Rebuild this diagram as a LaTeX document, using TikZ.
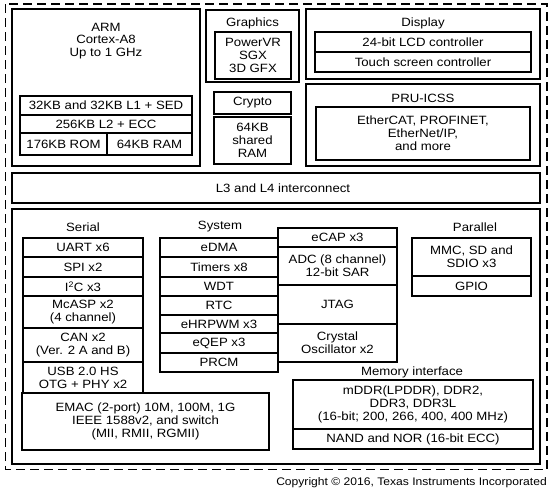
\documentclass[tikz,border=0pt]{standalone}
\usepackage{fontspec}
\setmainfont{Liberation Sans}[FakeStretch=1.1]
\usetikzlibrary{calc}
\tikzset{
  thickbox/.style={draw, line width=2.4pt},
  thinbox/.style={draw, line width=1.1pt},
  outerdash/.style={draw, line width=1.3pt, dash pattern=on 9pt off 5pt},
  lbl/.style={inner sep=0pt, align=center, font=\fontsize{12}{12.8}\selectfont},
  smalltxt/.style={inner sep=0pt, font=\fontsize{11}{12}\selectfont},
}
\newcommand\tbox[6]{%
  \draw[thinbox] (#1,#2) rectangle (#3,#4);
  \node[lbl] (#5) at ($(#1,#2)!0.5!(#3,#4)$) {#6};}
\begin{document}
\begin{tikzpicture}[x=1pt,y=-1pt]
\useasboundingbox (0,0) rectangle (557,491);
% outer dashed frame
\draw[outerdash] (5.5,4) rectangle (547,469.5);
% ARM
\draw[thickbox] (12,9) rectangle (200,166);
\node[lbl] (arm) at (106,41) {ARM\\Cortex-A8\\Up to 1 GHz};
\tbox{20}{96}{192}{115}{l1}{32KB and 32KB L1 + SED}
\tbox{20}{115}{192}{133}{l2}{256KB L2 + ECC}
\tbox{20}{133}{107}{155}{rom}{176KB ROM}
\tbox{107}{133}{192}{155}{ram}{64KB RAM}
% Graphics
\draw[thickbox] (206,10) rectangle (299,82);
\node[lbl] (gfxt) at (252.5,23) {Graphics};
\tbox{215}{32}{291}{79}{sgx}{PowerVR\\SGX\\3D GFX}
\tbox{214}{92}{291}{114}{crypto}{Crypto}
\tbox{214}{117}{291}{164}{sram}{64KB\\shared\\RAM}
% Display
\draw[thickbox] (306,9) rectangle (540,79);
\node[lbl] (dispt) at (423,23) {Display};
\tbox{315}{32}{531}{52}{lcd}{24-bit LCD controller}
\tbox{315}{52}{531}{72}{touch}{Touch screen controller}
% PRU-ICSS
\draw[thickbox] (306,84) rectangle (540,166);
\node[lbl] (prut) at (423,98) {PRU-ICSS};
\tbox{316}{107}{530}{160}{eth}{EtherCAT, PROFINET,\\EtherNet/IP,\\and more}
% Interconnect
\draw[thickbox] (12,173) rectangle (540,203);
\node[lbl] (l3) at (283,188) {L3 and L4 interconnect};
% Peripherals
\draw[thickbox] (12,209) rectangle (540,464);
\node[lbl] (serialt) at (83,227) {Serial};
\node[lbl] (systemt) at (220,227) {System};
\node[lbl] (parallelt) at (475,227) {Parallel};
\node[lbl] (memt) at (412,372) {Memory interface};
% Serial column
\tbox{23}{238}{143}{257}{uart}{UART x6}
\tbox{23}{257}{143}{277}{spi}{SPI x2}
\tbox{23}{277}{143}{296}{iic}{I\textsuperscript{2}C x3}
\tbox{23}{296}{143}{328}{mcasp}{McASP x2\\(4 channel)}
\tbox{23}{328}{143}{362}{can}{CAN x2\\(Ver. 2 A and B)}
\tbox{23}{362}{143}{393}{usb}{USB 2.0 HS\\OTG + PHY x2}
% System column
\tbox{160}{238}{278}{257}{edma}{eDMA}
\tbox{160}{257}{278}{277}{timers}{Timers x8}
\tbox{160}{277}{278}{296}{wdt}{WDT}
\tbox{160}{296}{278}{315}{rtc}{RTC}
\tbox{160}{315}{278}{333}{ehrpwm}{eHRPWM x3}
\tbox{160}{333}{278}{353}{eqep}{eQEP x3}
\tbox{160}{353}{278}{372}{prcm}{PRCM}
% second system column
\tbox{278}{228}{397}{247}{ecap}{eCAP x3}
\tbox{278}{247}{397}{285}{adc}{ADC (8 channel)\\12-bit SAR}
\tbox{278}{285}{397}{324}{jtag}{JTAG}
\tbox{278}{324}{397}{362}{xtal}{Crystal\\Oscillator x2}
% Parallel
\tbox{412}{238}{531}{276}{mmc}{MMC, SD and\\SDIO x3}
\tbox{412}{276}{531}{296}{gpio}{GPIO}
% EMAC
\tbox{22}{393}{269}{450}{emac}{EMAC (2-port) 10M, 100M, 1G\\IEEE 1588v2, and switch\\(MII, RMII, RGMII)}
% Memory
\tbox{293}{380}{533}{429}{ddr}{mDDR(LPDDR), DDR2,\\DDR3, DDR3L\\(16-bit; 200, 266, 400, 400 MHz)}
\tbox{293}{429}{533}{449}{nand}{NAND and NOR (16-bit ECC)}
% Copyright
\node[smalltxt, anchor=east] (copy) at (547,483) {Copyright © 2016, Texas Instruments Incorporated};
\end{tikzpicture}
\end{document}
